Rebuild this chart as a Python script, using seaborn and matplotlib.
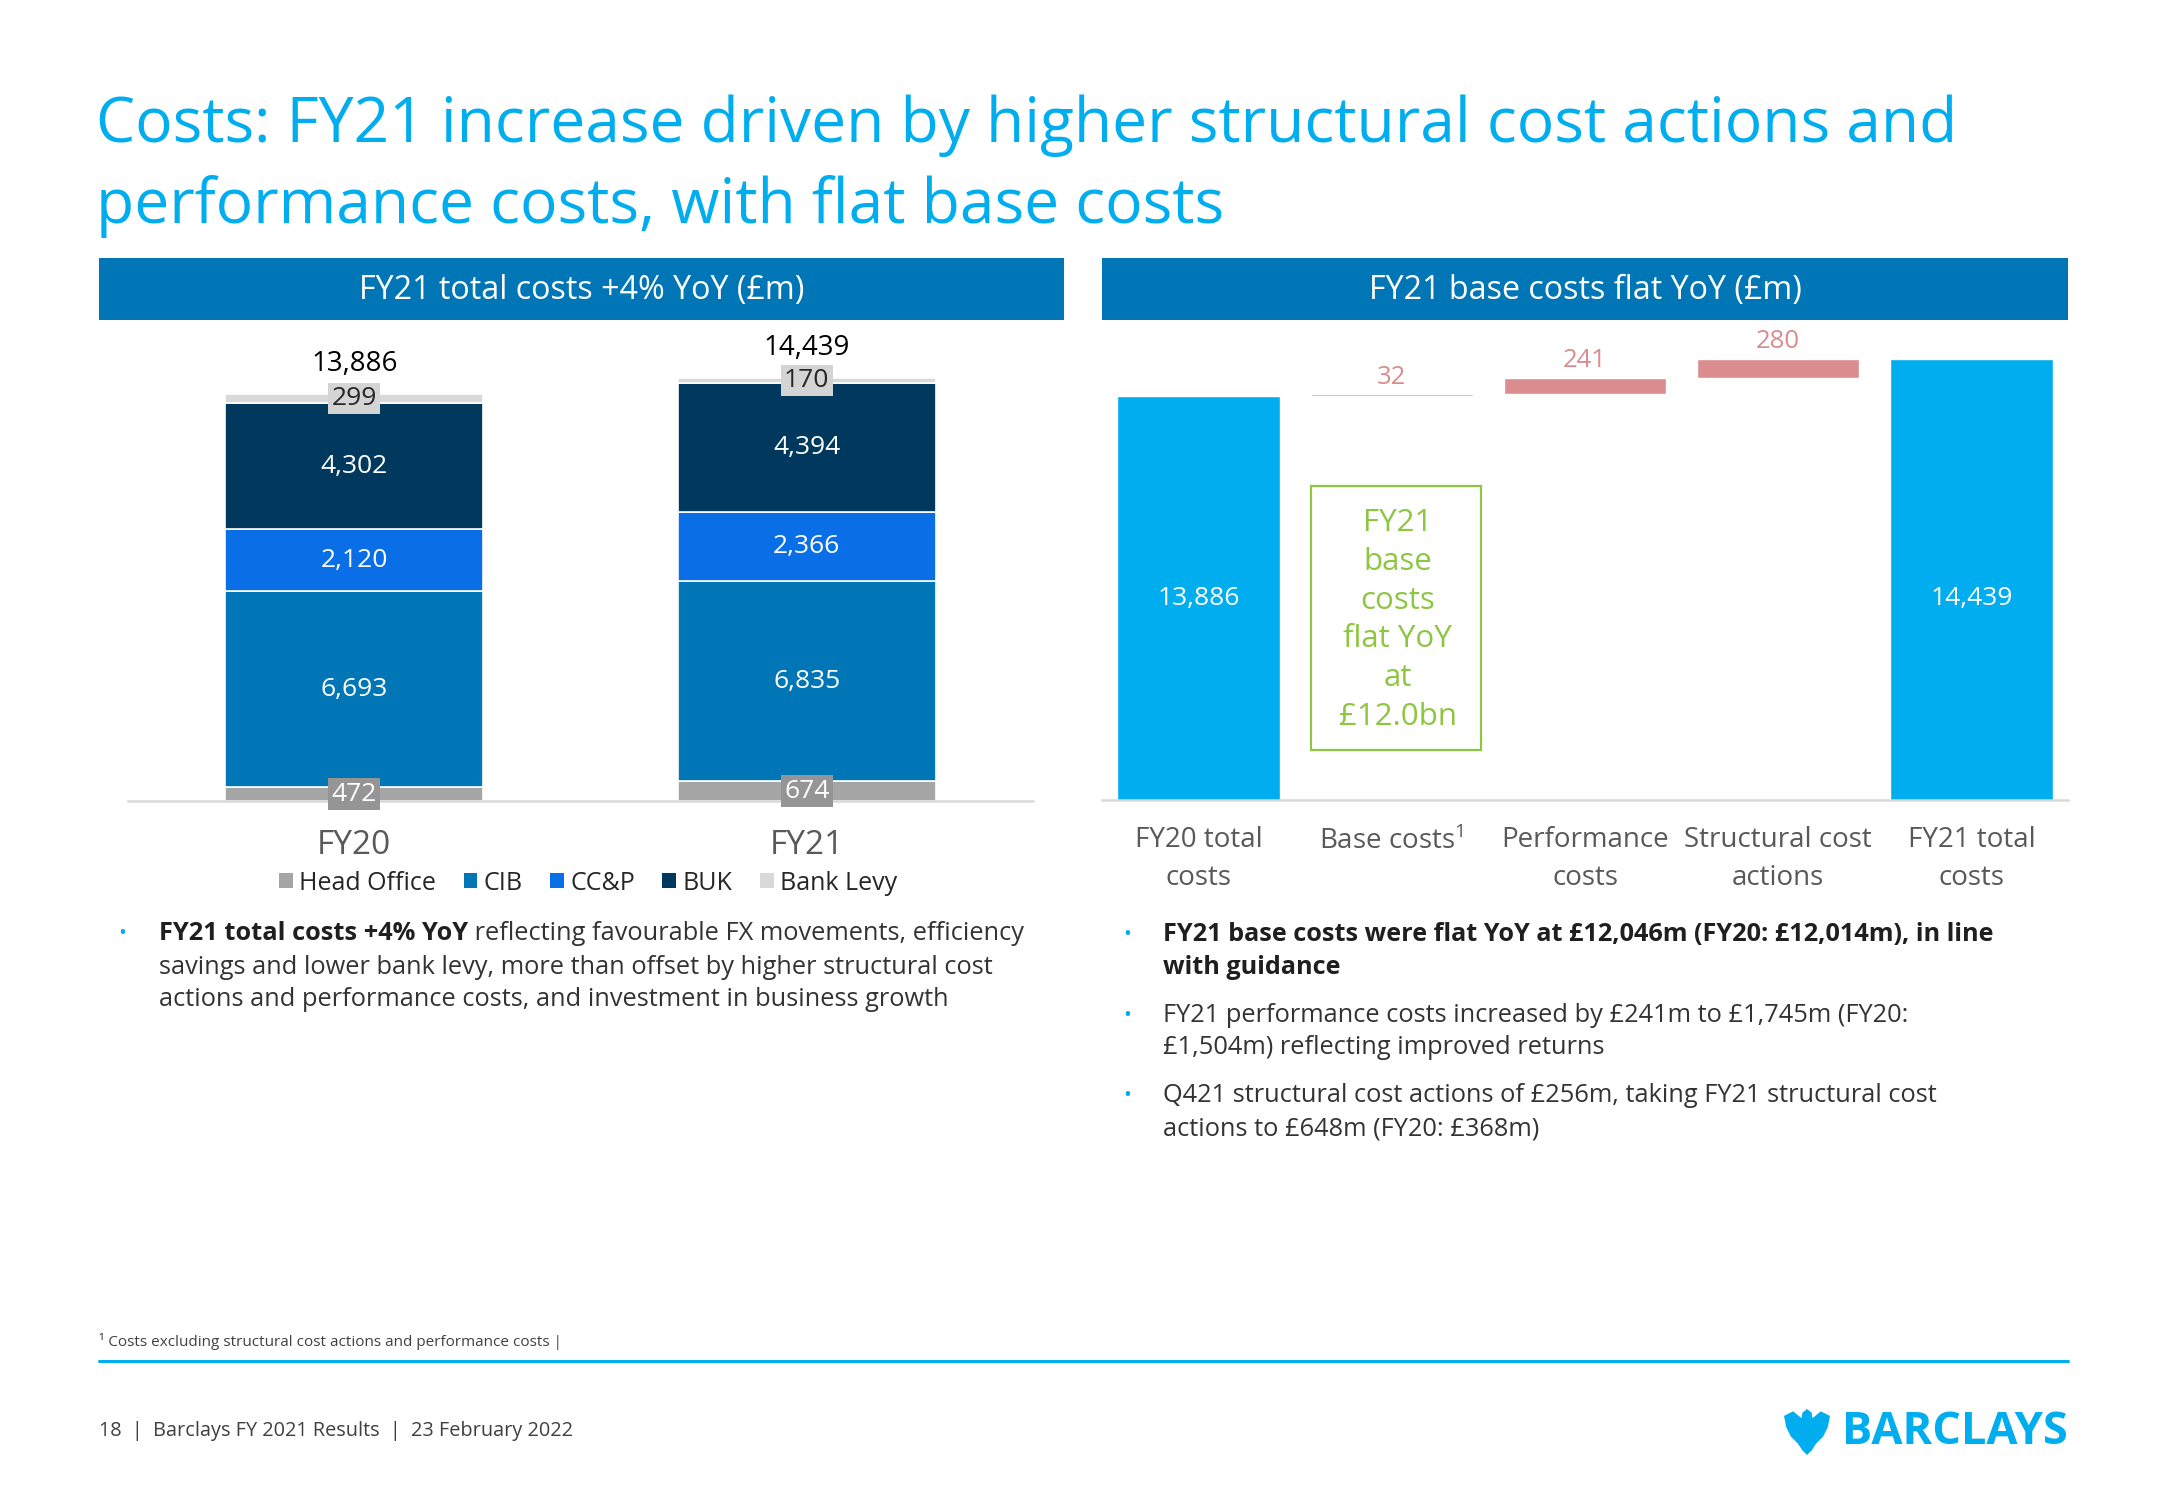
import numpy as np
import pandas as pd
import matplotlib
matplotlib.use("Agg")
import matplotlib.pyplot as plt
import matplotlib.transforms as mtransforms
from matplotlib.patches import Rectangle, Polygon, Patch
from matplotlib.lines import Line2D
import seaborn as sns

# ---------------- data ----------------
years = ["FY20", "FY21"]
segments = ["Head Office", "CIB", "CC&P", "BUK", "Bank Levy"]
head_office = [472, 674]
cib = [6693, 6835]
ccp = [2120, 2366]
buk = [4302, 4394]
bank_levy = [299, 170]
totals_left = [13886, 14439]

wf_categories = ["FY20 total\ncosts", "Base costs$^{\\mathregular{1}}$", "Performance\ncosts",
                 "Structural cost\nactions", "FY21 total\ncosts"]
wf_start = 13886
wf_deltas = [32, 241, 280]
wf_end = 14439

# ---------------- style ----------------
sns.set_theme(style="white")
plt.rcParams["font.family"] = ["Open Sans", "DejaVu Sans"]
plt.rcParams["mathtext.fontset"] = "custom"
plt.rcParams["mathtext.rm"] = "Open Sans"

W, H = 2166, 1500
fig = plt.figure(figsize=(W / 100, H / 100), dpi=100)
fig.patch.set_facecolor("white")


def fx(x):
    return x / W


def fy(y):
    return 1 - y / H


BLUE_LIGHT = "#00AEEF"
BLUE_HDR = "#0076B6"
GREY_TXT = "#595959"
TXT = "#1F1F1F"

seg_colors = ["#A5A5A5", "#0076B6", "#0A6FE6", "#00395D", "#D9D9D9"]

# ---------------- title ----------------
fig.text(fx(96), fy(126), "Costs: FY21 increase driven by higher structural cost actions and",
         fontsize=44.8, color=BLUE_LIGHT, va="center", ha="left")
fig.text(fx(96), fy(206), "performance costs, with flat base costs",
         fontsize=44.8, color=BLUE_LIGHT, va="center", ha="left")

# ---------------- header bars ----------------
for (x0, x1, label) in [(99, 1064, "FY21 total costs +4% YoY (£m)"),
                        (1102, 2068, "FY21 base costs flat YoY (£m)")]:
    fig.add_artist(Rectangle((fx(x0), fy(320)), (x1 - x0) / W, 62 / H,
                             transform=fig.transFigure, facecolor=BLUE_HDR, edgecolor="none"))
    fig.text(fx((x0 + x1) / 2), fy(290), label, fontsize=23.2, color="white",
             ha="center", va="center")

# ---------------- left stacked chart ----------------
ax1 = fig.add_axes([fx(128), fy(801), (1033 - 128) / W, (801 - 330) / H])
seg_values = [head_office, cib, ccp, buk, bank_levy]
cum = np.zeros(len(years))
bottoms_all = []
for name, vals, col in zip(segments, seg_values, seg_colors):
    bottoms_all.append(cum.copy())
    for i, yr in enumerate(years):
        df = pd.DataFrame({"year": [yr], "value": [vals[i]]})
        sns.barplot(data=df, x="year", y="value", order=years, color=col, width=0.57,
                    bottom=cum[i], edgecolor="white", linewidth=1.2, saturation=1,
                    errorbar=None, ax=ax1)
    cum = cum + np.array(vals)

ax1.set_xlim(-0.5, 1.5)
ax1.set_ylim(0, 16081)
ax1.set_xlabel("")
ax1.set_ylabel("")
ax1.set_yticks([])
ax1.set_xticks(range(len(years)))
ax1.set_xticklabels(years, fontsize=24, color=GREY_TXT)
ax1.tick_params(axis="x", length=0, pad=20)
for s in ["top", "left", "right"]:
    ax1.spines[s].set_visible(False)
ax1.spines["bottom"].set_color("#D9D9D9")
ax1.spines["bottom"].set_linewidth(1.8)

for k, (name, vals) in enumerate(zip(segments, seg_values)):
    for i in range(len(years)):
        yc = bottoms_all[k][i] + vals[i] / 2
        txt = f"{vals[i]:,}"
        if name == "Head Office":
            ax1.text(i, yc, txt, ha="center", va="center", fontsize=19, color="white",
                     bbox=dict(boxstyle="square,pad=0.12", facecolor="#959595", edgecolor="none"))
        elif name == "Bank Levy":
            ax1.text(i, yc, txt, ha="center", va="center", fontsize=19, color="#262626",
                     bbox=dict(boxstyle="square,pad=0.12", facecolor="#D4D4D4", edgecolor="none"))
        else:
            ax1.text(i, yc, txt, ha="center", va="center", fontsize=19, color="white")

for i, tot in enumerate(totals_left):
    ax1.annotate(f"{tot:,}", xy=(i, tot), xytext=(0, 22),
                 textcoords="offset points", ha="center", va="center",
                 fontsize=20, color="black")

handles = [Patch(facecolor=c, edgecolor="none") for c in seg_colors]
fig.legend(handles, segments, loc="center", bbox_to_anchor=(fx(588), fy(883)), ncol=5,
           frameon=False, fontsize=18, handlelength=0.55, handleheight=0.55,
           handletextpad=0.25, columnspacing=1.1, labelcolor="#262626")

# ---------------- right waterfall chart ----------------
ax2 = fig.add_axes([fx(1102), fy(800), (2068 - 1102) / W, (800 - 330) / H])
y_bottom = 7900
ax2_top = y_bottom + 470 / 0.0675

tot_df = pd.DataFrame({"cat": [wf_categories[0], wf_categories[-1]],
                       "value": [wf_start, wf_end]})
sns.barplot(data=tot_df, x="cat", y="value", order=wf_categories, color=BLUE_LIGHT,
            width=0.84, saturation=1, errorbar=None, ax=ax2)

delta_bottoms = wf_start + np.concatenate([[0], np.cumsum(wf_deltas)[:-1]])
for j, (d, b) in enumerate(zip(wf_deltas, delta_bottoms)):
    df = pd.DataFrame({"cat": [wf_categories[j + 1]], "value": [d]})
    sns.barplot(data=df, x="cat", y="value", order=wf_categories, color="#DA8C8F",
                width=0.84, bottom=b, saturation=1, errorbar=None, ax=ax2)
    ax2.annotate(f"{d:,}", xy=(j + 1, b + d), xytext=(0, 3), textcoords="offset points",
                 ha="center", va="bottom", fontsize=18.5, color="#DA8C8F")

ax2.set_xlim(-0.5, 4.5)
ax2.set_ylim(y_bottom, ax2_top)
ax2.set_xlabel("")
ax2.set_ylabel("")
ax2.set_yticks([])
ax2.set_xticks(range(len(wf_categories)))
ax2.set_xticklabels(wf_categories, fontsize=20, color=GREY_TXT)
for t in ax2.get_xticklabels():
    t.set_linespacing(1.45)
ax2.tick_params(axis="x", length=0, pad=19)
for s in ["top", "left", "right"]:
    ax2.spines[s].set_visible(False)
ax2.spines["bottom"].set_color("#D9D9D9")
ax2.spines["bottom"].set_linewidth(1.8)

blend = mtransforms.blended_transform_factory(ax2.transData, ax2.transAxes)
for xpos, val in [(0, wf_start), (4, wf_end)]:
    ax2.text(xpos, (800 - 598) / 470, f"{val:,}", ha="center", va="center",
             fontsize=19, color="white", transform=blend)

# green call-out box
GREEN = "#8DC641"
ax2.add_patch(Rectangle((1 - 0.42, (800 - 750) / 470), 0.88, (750 - 486) / 470,
                        transform=blend, facecolor="none", edgecolor=GREEN, linewidth=1.6,
                        clip_on=False))
ax2.text(1.03, (800 - 620) / 470, "FY21\nbase\ncosts\nflat YoY\nat\n£12.0bn", transform=blend,
         ha="center", va="center", fontsize=22.5, color=GREEN, linespacing=1.38)

# ---------------- bullet text ----------------
renderer = fig.canvas.get_renderer()


def rich_line(x, y, parts, size):
    cur = fx(x)
    for txt, wt, col in parts:
        t = fig.text(cur, fy(y), txt, fontsize=size, fontweight=wt, color=col,
                     ha="left", va="center")
        bb = t.get_window_extent(renderer)
        cur += bb.width / W


def bullet(x, y):
    fig.text(fx(x), fy(y), "•", fontsize=15, color=BLUE_LIGHT, ha="left", va="center")


BS = 18.3
bullet(118, 934)
rich_line(159, 934, [("FY21 total costs +4% YoY", "bold", TXT),
                     (" reflecting favourable FX movements, efficiency", "normal", "#333333")], BS)
rich_line(159, 967, [("savings and lower bank levy, more than offset by higher structural cost",
                      "normal", "#333333")], BS)
rich_line(159, 1000, [("actions and performance costs, and investment in business growth",
                       "normal", "#333333")], BS)

bullet(1123, 935)
rich_line(1163, 935, [("FY21 base costs were flat YoY at £12,046m (FY20: £12,014m), in line",
                       "bold", TXT)], 18.2)
rich_line(1163, 968, [("with guidance", "bold", TXT)], 18.2)
bullet(1123, 1015)
rich_line(1163, 1015, [("FY21 performance costs increased by £241m to £1,745m (FY20:",
                        "normal", "#333333")], BS)
rich_line(1163, 1048, [("£1,504m) reflecting improved returns", "normal", "#333333")], BS)
bullet(1123, 1095)
rich_line(1163, 1095, [("Q421 structural cost actions of £256m, taking FY21 structural cost",
                        "normal", "#333333")], BS)
rich_line(1163, 1129, [("actions to £648m (FY20: £368m)", "normal", "#333333")], BS)

# ---------------- footer ----------------
fig.text(fx(99), fy(1341), "¹ Costs excluding structural cost actions and performance costs |",
         fontsize=11, color="#404040", ha="left", va="center")
fig.add_artist(Line2D([fx(99), fx(2068)], [fy(1361), fy(1361)], color=BLUE_LIGHT,
                      linewidth=2.2, transform=fig.transFigure))
fig.text(fx(99), fy(1431), "18  |  Barclays FY 2021 Results  |  23 February 2022",
         fontsize=14.3, color="#404040", ha="left", va="center")
fig.text(fx(2068), fy(1432), "BARCLAYS", fontsize=32.5, fontweight="bold", color=BLUE_LIGHT,
         ha="right", va="center")

# simple eagle emblem
ex0, ex1, ey0, ey1 = 1784, 1830, 1409, 1455
pts = [(0.5, 1.0), (0.6, 0.92), (0.62, 0.8), (0.8, 0.95), (1.0, 0.85), (0.95, 0.6),
       (0.85, 0.4), (0.7, 0.25), (0.6, 0.1), (0.5, 0.0), (0.4, 0.1), (0.3, 0.25),
       (0.15, 0.4), (0.05, 0.6), (0.0, 0.85), (0.2, 0.95), (0.38, 0.8), (0.4, 0.92)]
poly = [(fx(ex0 + px * (ex1 - ex0)), fy(ey1 - py * (ey1 - ey0))) for px, py in pts]
fig.add_artist(Polygon(poly, closed=True, transform=fig.transFigure,
                       facecolor=BLUE_LIGHT, edgecolor="none"))

fig.savefig("out.png", dpi=100, facecolor="white")
